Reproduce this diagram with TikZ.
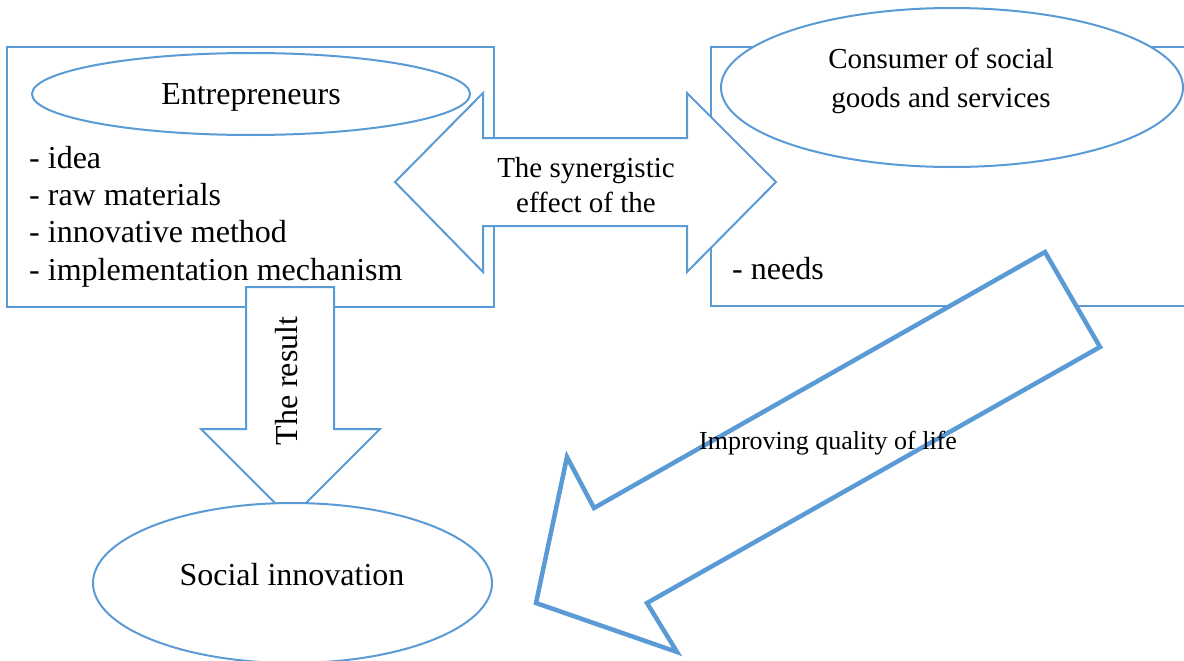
\documentclass[tikz,border=0pt]{standalone}
\usepackage{fontspec}
\setmainfont{Liberation Serif}
\usetikzlibrary{shapes.geometric}
\definecolor{wblue}{RGB}{91,155,213}
\tikzset{
  box/.style={draw=wblue, line width=2pt, fill=white, rectangle, inner sep=0pt},
  oval/.style={draw=wblue, line width=2pt, fill=white, ellipse, inner sep=0pt},
  blockarrow/.style={draw=wblue, line width=2pt, fill=white, line join=miter},
  thickarrow/.style={draw=wblue, line width=4.5pt, fill=white, line join=miter},
  bigtext/.style={font=\fontsize{32}{37}\selectfont, inner sep=0pt},
  midtext/.style={font=\fontsize{29}{35}\selectfont, inner sep=0pt},
  smalltext/.style={font=\fontsize{26}{30}\selectfont, inner sep=0pt}
}
\begin{document}
\begin{tikzpicture}[x=1pt,y=-1pt]
\useasboundingbox (0,0) rectangle (1184,661);
\clip (0,0) rectangle (1184,661);
% boxes
\node[box, minimum width=487pt, minimum height=260pt] (entbox) at (250.5,177) {};
\node[box, minimum width=489pt, minimum height=259pt] (conbox) at (955.5,176.5) {};
% ovals in the boxes
\node[oval, minimum width=438pt, minimum height=82pt] (entoval) at (251,94) {};
\node[oval, minimum width=462pt, minimum height=159pt] (conoval) at (952,87.5) {};
% double arrow
\draw[blockarrow] (395,182) -- (483,93) -- (483,138) -- (687,138) -- (687,93)
  -- (776,182) -- (687,272) -- (687,226) -- (483,226) -- (483,272) -- cycle;
% down arrow
\draw[blockarrow] (246,287) -- (334,287) -- (334,429) -- (380,429) -- (290.5,518.5)
  -- (201,429) -- (246,429) -- cycle;
% result oval
\node[oval, minimum width=399pt, minimum height=160pt] (socoval) at (292.5,583) {};
% diagonal arrow
\draw[thickarrow] (1045,252) -- (1100,347) -- (647,603) -- (677,652) -- (536,603)
  -- (567,457) -- (594,508) -- cycle;
% texts
\node[bigtext, anchor=base] (enttitle) at (251,105) {Entrepreneurs};
\node[bigtext, anchor=base west] (item1) at (29,168) {- idea};
\node[bigtext, anchor=base west] (item2) at (29,205) {- raw materials};
\node[bigtext, anchor=base west] (item3) at (29,242) {- innovative method};
\node[bigtext, anchor=base west] (item4) at (29,280) {- implementation mechanism};
\node[midtext, anchor=base] (contitle1) at (941,69) {Consumer of social};
\node[midtext, anchor=base] (contitle2) at (941,107) {goods and services};
\node[bigtext, anchor=base west] (needs) at (732,279) {- needs};
\node[midtext, anchor=base] (syn1) at (586,177) {The synergistic};
\node[midtext, anchor=base] (syn2) at (586,212) {effect of the};
\node[bigtext, rotate=90, anchor=base] (result) at (297,381) {The result};
\node[bigtext, anchor=base] (soctitle) at (292,585) {Social innovation};
\node[smalltext, anchor=base] (quality) at (828,449) {Improving quality of life};
\end{tikzpicture}
\end{document}
